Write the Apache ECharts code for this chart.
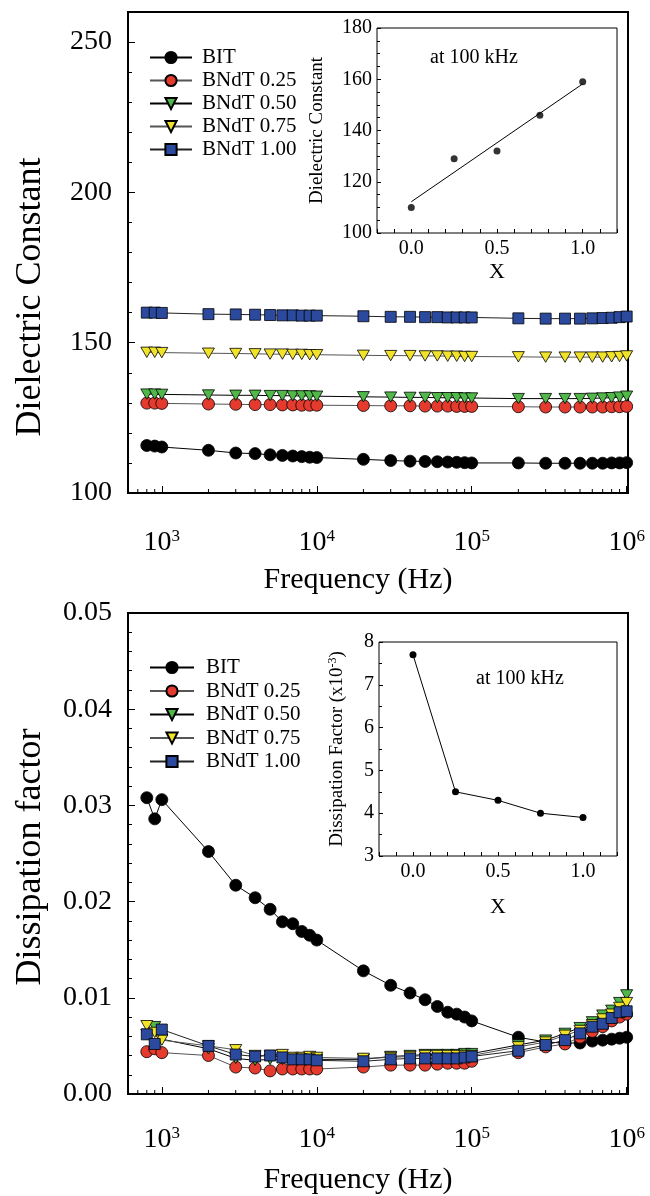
<!DOCTYPE html>
<html><head><meta charset="utf-8">
<script src="https://cdn.jsdelivr.net/npm/echarts@6/dist/echarts.min.js"></script>
<style>html,body{margin:0;padding:0;background:#fff}#c{width:650px;height:1196px}</style>
</head><body><div id="c"></div>
<script>
// ---------- data ----------
const freq = [800,900,1000,2000,3000,4000,5000,6000,7000,8000,9000,10000,
  20000,30000,40000,50000,60000,70000,80000,90000,100000,
  200000,300000,400000,500000,600000,700000,800000,900000,1000000];
const seriesNames = ['BIT','BNdT 0.25','BNdT 0.50','BNdT 0.75','BNdT 1.00'];

// Dielectric constant (top panel)
const epsBIT = [115.8,115.6,115.3,114.2,113.3,113.1,112.7,112.5,112.3,112.1,111.9,111.8,111.2,110.8,110.6,110.5,110.4,110.3,110.2,110.1,110.0,110.0,109.9,109.9,109.9,109.9,109.9,110.0,110.0,110.1];
const eps025 = [129.9,129.9,129.8,129.6,129.5,129.4,129.4,129.3,129.3,129.2,129.2,129.2,129.1,129.0,129.0,128.9,128.9,128.9,128.8,128.8,128.8,128.7,128.6,128.6,128.6,128.6,128.6,128.7,128.7,128.8];
const eps050 = [132.9,132.9,132.8,132.6,132.5,132.5,132.4,132.4,132.3,132.3,132.3,132.2,132.0,131.9,131.8,131.8,131.7,131.7,131.7,131.6,131.6,131.4,131.4,131.4,131.4,131.5,131.6,131.7,131.9,132.2];
const eps075 = [146.8,146.8,146.7,146.5,146.4,146.3,146.2,146.2,146.1,146.1,146.0,146.0,145.8,145.7,145.7,145.6,145.6,145.5,145.5,145.4,145.4,145.3,145.2,145.2,145.2,145.2,145.2,145.3,145.4,145.6];
const eps100 = [160.0,160.0,159.9,159.5,159.4,159.3,159.2,159.1,159.1,159.0,159.0,159.0,158.8,158.6,158.6,158.5,158.5,158.4,158.4,158.4,158.4,158.1,158.0,158.0,158.0,158.1,158.2,158.3,158.5,158.7];

// Dissipation factor (bottom panel)
const dfBIT = [0.0308,0.0286,0.0306,0.0252,0.0217,0.0204,0.0192,0.0179,0.0177,0.0169,0.0165,0.0160,0.0128,0.0113,0.0105,0.0098,0.0091,0.0085,0.0083,0.0080,0.0076,0.0059,0.0054,0.0053,0.0053,0.0055,0.0056,0.0057,0.0058,0.0059];
const df025 = [0.0044,0.0047,0.0043,0.0040,0.0028,0.0027,0.0024,0.0026,0.0026,0.0026,0.0026,0.0026,0.0028,0.0030,0.0030,0.0030,0.0031,0.0032,0.0032,0.0032,0.0034,0.0043,0.0049,0.0052,0.0059,0.0065,0.0070,0.0076,0.0080,0.0083];
const df050 = [0.0062,0.0070,0.0057,0.0047,0.0037,0.0035,0.0036,0.0036,0.0036,0.0036,0.0036,0.0036,0.0036,0.0039,0.0040,0.0041,0.0041,0.0041,0.0041,0.0042,0.0042,0.0051,0.0056,0.0063,0.0069,0.0075,0.0082,0.0087,0.0095,0.0103];
const df075 = [0.0071,0.0064,0.0056,0.0050,0.0046,0.0040,0.0040,0.0041,0.0038,0.0038,0.0039,0.0038,0.0037,0.0038,0.0039,0.0040,0.0040,0.0040,0.0040,0.0040,0.0040,0.0049,0.0054,0.0061,0.0066,0.0072,0.0078,0.0083,0.0090,0.0095];
const df100 = [0.0062,0.0052,0.0067,0.0050,0.0041,0.0039,0.0040,0.0038,0.0036,0.0036,0.0036,0.0035,0.0034,0.0036,0.0037,0.0037,0.0037,0.0037,0.0037,0.0038,0.0039,0.0045,0.0051,0.0056,0.0063,0.0070,0.0073,0.0079,0.0085,0.0086];

// Insets (at 100 kHz)
const insetX = [0, 0.25, 0.5, 0.75, 1.0];
const insetEps = [110, 129, 132, 146, 159];
const insetFitX = [0, 1];
const insetFitEps = [112.2, 158.2];
const insetDf = [7.7, 4.5, 4.3, 4.0, 3.9];   // x10^-3

// minor tick positions of the log frequency axis
const minorFreqs = [700,800,900,2000,3000,4000,5000,6000,7000,8000,9000,
  20000,30000,40000,50000,60000,70000,80000,90000,
  200000,300000,400000,500000,600000,700000,800000,900000];
const insetNote = 'at 100 kHz';

// ---------- chart ----------
const FONT = 'Liberation Serif';
const downTri = 'path://M0,0L10,0L5,8.66Z';
const symbols = ['circle','circle',downTri,downTri,'rect'];
const colors = ['#000000','#e53a2e','#4fb848','#f1e22a','#2b4a9e'];
const lineColors = ['#000','#555','#000','#555','#222'];
const sizes = [12,12,12,12,11];

function mainSeries(arrs, xi, yi) {
  return arrs.map((arr, i) => ({
    name: seriesNames[i], type: 'line', xAxisIndex: xi, yAxisIndex: yi,
    data: freq.map((f, k) => [f, arr[k]]),
    symbol: symbols[i], symbolSize: sizes[i], symbolKeepAspect: true,
    showAllSymbol: true,
    lineStyle: {color: lineColors[i], width: 1},
    itemStyle: {color: colors[i], borderColor: '#000', borderWidth: 0.8},
    z: 3 + i
  }));
}
function minorTickSeries(xi, yi, ymin) {
  return {
    type: 'custom', xAxisIndex: xi, yAxisIndex: yi, silent: true, clip: false, z: 10,
    data: minorFreqs.map(f => [f, ymin]),
    renderItem: (params, api) => {
      const p = api.coord([api.value(0), api.value(1)]);
      return {type: 'line', shape: {x1: p[0], y1: p[1], x2: p[0], y2: p[1] - 4},
              style: {stroke: '#000', lineWidth: 1}};
    }
  };
}
const logFmt = v => {
  const e = Math.log10(v), r = Math.round(e);
  return Math.abs(e - r) < 1e-6 ? '{b|10}{s|' + r + '}' : '';
};
const supRich = {
  b: {fontFamily: FONT, fontSize: 28, color: '#000', lineHeight: 30},
  s: {fontFamily: FONT, fontSize: 17, color: '#000', lineHeight: 17, verticalAlign: 'top'}
};
const tickStyle = {color: '#000', width: 1};
function logAxis(gi, labelMargin, gap) {
  return {
    gridIndex: gi, type: 'log', logBase: 10, min: 605, max: 1.02e6,
    axisLine: {show: false, onZero: false}, splitLine: {show: false},
    axisTick: {inside: true, length: 7, lineStyle: tickStyle},
    axisLabel: {formatter: logFmt, rich: supRich, margin: labelMargin},
    name: 'Frequency (Hz)', nameLocation: 'middle', nameGap: gap,
    nameTextStyle: {fontFamily: FONT, fontSize: 30, color: '#000', padding: [0, 40, 0, 0]}
  };
}
function insetXAxis(gi, gap) {
  return {
    gridIndex: gi, type: 'value', min: -0.2, max: 1.2, interval: 0.1,
    axisLine: {show: false, onZero: false}, splitLine: {show: false},
    axisTick: {inside: true, length: 4, lineStyle: tickStyle},
    axisLabel: {
      formatter: v => { const r = Math.round(v * 10) / 10;
        return (Math.abs(r * 2 - Math.round(r * 2)) < 1e-9 && r > -0.05 && r < 1.05) ? Math.abs(r).toFixed(1) : ''; },
      fontFamily: FONT, fontSize: 20, color: '#000', margin: 6},
    name: 'X', nameLocation: 'middle', nameGap: gap,
    nameTextStyle: {fontFamily: FONT, fontSize: 22, color: '#000'}
  };
}
function yAx(gi, min, max, interval, len, labelFmt, extra) {
  return Object.assign({
    gridIndex: gi, type: 'value', position: 'left', min: min, max: max, interval: interval,
    axisLine: {show: false, onZero: false}, splitLine: {show: false},
    axisTick: {inside: true, length: len, lineStyle: tickStyle},
    axisLabel: labelFmt ? {formatter: labelFmt, fontFamily: FONT, fontSize: 28, color: '#000', margin: 16} : {show: false}
  }, extra || {});
}

const option = {
  animation: false,
  backgroundColor: '#fff',
  grid: [
    {left: 128, top: 12, width: 500, height: 481, show: true, borderColor: '#000', borderWidth: 2, containLabel: false},
    {left: 377, top: 28, width: 240, height: 205, show: true, borderColor: '#000', borderWidth: 1, backgroundColor: '#fff', containLabel: false},
    {left: 128, top: 613, width: 500, height: 485, show: true, borderColor: '#000', borderWidth: 2, containLabel: false},
    {left: 379, top: 642, width: 238, height: 214, show: true, borderColor: '#000', borderWidth: 1, backgroundColor: '#fff', containLabel: false}
  ],
  xAxis: [logAxis(0, 35, 72), insetXAxis(1, 28), logAxis(2, 31, 71), insetXAxis(3, 40)],
  yAxis: [
    // 0,1: top main (minor + major)
    yAx(0, 100, 260, 10, 4, null),
    yAx(0, 100, 260, 50, 7, v => (v % 50 === 0 ? String(v) : ''), {
      name: 'Dielectric Constant', nameLocation: 'middle', nameGap: 79, nameRotate: 90,
      nameTextStyle: {fontFamily: FONT, fontSize: 36, color: '#000', padding: [0, 89, 0, 0]}}),
    // 2,3: inset 1 (minor + major)
    yAx(1, 100, 180, 5, 3, null),
    yAx(1, 100, 180, 20, 4, v => String(v), {
      axisLabel: {formatter: v => String(v), fontFamily: FONT, fontSize: 20, color: '#000', margin: 5},
      name: 'Dielectric Constant', nameLocation: 'middle', nameGap: 50, nameRotate: 90,
      nameTextStyle: {fontFamily: FONT, fontSize: 19, color: '#000'}}),
    // 4,5: bottom main (minor + major)
    yAx(2, 0, 0.05, 0.002, 4, null),
    yAx(2, 0, 0.05, 0.01, 7, v => v.toFixed(2), {
      name: 'Dissipation factor', nameLocation: 'middle', nameGap: 79, nameRotate: 90,
      nameTextStyle: {fontFamily: FONT, fontSize: 36, color: '#000', padding: [0, 7, 0, 0]}}),
    // 6,7: inset 2 (minor + major)
    yAx(3, 3, 8, 0.5, 3, null),
    yAx(3, 3, 8, 1, 4, v => String(v), {
      axisLabel: {formatter: v => String(v), fontFamily: FONT, fontSize: 20, color: '#000', margin: 5},
      name: '{a|Dissipation Factor (x10}{s|-3}{a|)}', nameLocation: 'middle', nameGap: 32, nameRotate: 90,
      nameTextStyle: {rich: {
        a: {fontFamily: FONT, fontSize: 19, color: '#000', lineHeight: 20},
        s: {fontFamily: FONT, fontSize: 12, color: '#000', lineHeight: 12, verticalAlign: 'top'}}}})
  ],
  legend: [
    {data: seriesNames, orient: 'vertical', left: 144, top: 42, itemWidth: 42, itemHeight: 14, itemGap: 2,
     textStyle: {fontFamily: FONT, fontSize: 21, color: '#000', padding: [0, 0, 0, 5]}, selectedMode: false},
    {data: seriesNames, orient: 'vertical', left: 144, top: 652, itemWidth: 44, itemHeight: 14, itemGap: 2.5,
     textStyle: {fontFamily: FONT, fontSize: 21, color: '#000', padding: [0, 0, 0, 7]}, selectedMode: false}
  ],
  graphic: [
    {type: 'text', left: 430, top: 48, style: {text: insetNote, fontFamily: FONT, fontSize: 20, fill: '#000'}},
    {type: 'text', left: 476, top: 669, style: {text: insetNote, fontFamily: FONT, fontSize: 20, fill: '#000'}}
  ],
  series: [].concat(
    mainSeries([epsBIT, eps025, eps050, eps075, eps100], 0, 1),
    [minorTickSeries(0, 1, 100)],
    mainSeries([dfBIT, df025, df050, df075, df100], 2, 5),
    [minorTickSeries(2, 5, 0)],
    [
      {type: 'line', xAxisIndex: 1, yAxisIndex: 3, data: insetFitX.map((x, i) => [x, insetFitEps[i]]),
       symbol: 'none', lineStyle: {color: '#000', width: 1}, z: 5},
      {type: 'scatter', xAxisIndex: 1, yAxisIndex: 3, data: insetX.map((x, i) => [x, insetEps[i]]),
       symbol: 'circle', symbolSize: 7, itemStyle: {color: '#000'}, z: 6},
      {type: 'line', xAxisIndex: 3, yAxisIndex: 7, data: insetX.map((x, i) => [x, insetDf[i]]),
       symbol: 'circle', symbolSize: 7, showAllSymbol: true, lineStyle: {color: '#000', width: 1},
       itemStyle: {color: '#000'}, z: 6}
    ]
  )
};
const chart = echarts.init(document.getElementById('c'));
chart.setOption(option);
</script>
</body></html>
